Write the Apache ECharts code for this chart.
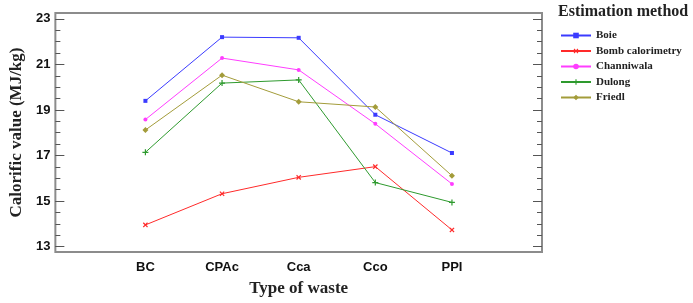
<!DOCTYPE html>
<html><head><meta charset="utf-8">
<script src="https://cdn.jsdelivr.net/npm/echarts@6/dist/echarts.min.js"></script>
<style>html,body{margin:0;padding:0;background:#fff}#c{width:693px;height:303px}</style>
</head><body><div id="c"></div>
<script>
const categories = ['BC', 'CPAc', 'Cca', 'Cco', 'PPI'];
const boie = [19.40, 22.20, 22.17, 18.79, 17.11];
const bomb = [13.95, 15.32, 16.04, 16.51, 13.73];
const channiwala = [18.58, 21.28, 20.76, 18.39, 15.75];
const dulong = [17.14, 20.18, 20.32, 15.81, 14.94];
const friedl = [18.12, 20.53, 19.36, 19.13, 16.11];
const yMajor = [13, 15, 17, 19, 21, 23];
const yMinor = [13,13.5,14,14.5,15,15.5,16,16.5,17,17.5,18,18.5,19,19.5,20,20.5,21,21.5,22,22.5,23];
const seriesNames = ['Boie', 'Bomb calorimetry', 'Channiwala', 'Dulong', 'Friedl'];
const seriesValues = [boie, bomb, channiwala, dulong, friedl];
const colors = ['#3b3bff', '#ff2a2a', '#ff3dff', '#2e9a2e', '#a39c3a'];
const symbols = ['rect', 'path://M4,0H6V4H10V6H6V10H4V6H0V4H4Z', 'circle', 'path://M4,0H6V4H10V6H6V10H4V6H0V4H4Z', 'diamond'];
const symbolRot = [0, 45, 0, 0, 0];
const symbolSz = [4, 6, 4, 6, 6];

const chart = echarts.init(document.getElementById('c'), null, {renderer: 'canvas'});
const axisGray = '#8c8c8c';
const yMin = 12.76, yMax = 23.26;
function yAx(pos, ticks, len, labels) {
  return {
    type: 'value', position: pos, offset: 0, min: yMin, max: yMax,
    axisLine: {show: false, onZero: false},
    splitLine: {show: false},
    axisTick: {show: true, inside: true, length: len, customValues: ticks, lineStyle: {color: '#555', width: 1}},
    axisLabel: labels ? {show: true, customValues: yMajor, fontFamily: 'Liberation Sans', fontWeight: 'bold', fontSize: 13, color: '#111', margin: 5} : {show: false}
  };
}
const yAxes = [yAx('left', yMajor, 9, true), yAx('left', yMinor, 5, false), yAx('right', yMajor, 9, false), yAx('right', yMinor, 5, false)];
yAxes[0].name = 'Calorific value (MJ/kg)';
yAxes[0].nameLocation = 'middle';
yAxes[0].nameGap = 23;
yAxes[0].nameTextStyle = {fontFamily: 'Liberation Serif', fontWeight: 'bold', fontSize: 17, color: '#222'};

chart.setOption({
  animation: false,
  color: colors,
  grid: {left: 53, right: 151, top: 13, bottom: 51, show: true, borderColor: axisGray, borderWidth: 2, backgroundColor: 'transparent'},
  title: {text: 'Estimation method', left: 558, top: 4, padding: 0, textStyle: {fontFamily: 'Liberation Serif', fontWeight: 'bold', fontSize: 16, color: '#222'}},
  legend: {
    orient: 'vertical', left: 560, top: 30, padding: 0, itemWidth: 30, itemHeight: 7, itemGap: 4.5,
    data: seriesNames,
    textStyle: {fontFamily: 'Liberation Serif', fontWeight: 'bold', fontSize: 11, color: '#222'}
  },
  xAxis: {
    type: 'value', min: -0.175, max: 6.175,
    axisLine: {show: false}, splitLine: {show: false},
    axisTick: {show: false},
    axisLabel: {customValues: [1, 2, 3, 4, 5], formatter: v => categories[Math.round(v) - 1] || '', fontFamily: 'Liberation Sans', fontWeight: 'bold', fontSize: 13, color: '#111', margin: 9},
    name: 'Type of waste', nameLocation: 'middle', nameGap: 28,
    nameTextStyle: {fontFamily: 'Liberation Serif', fontWeight: 'bold', fontSize: 17, color: '#222'}
  },
  yAxis: yAxes,
  series: seriesNames.map((n, i) => ({
    name: n, type: 'line', yAxisIndex: 0,
    data: seriesValues[i].map((v, j) => [j + 1, v]),
    symbol: symbols[i], symbolSize: symbolSz[i], symbolRotate: symbolRot[i], showSymbol: true,
    lineStyle: {width: 1, color: colors[i]},
    itemStyle: {color: colors[i]}
  }))
});
</script></body></html>
